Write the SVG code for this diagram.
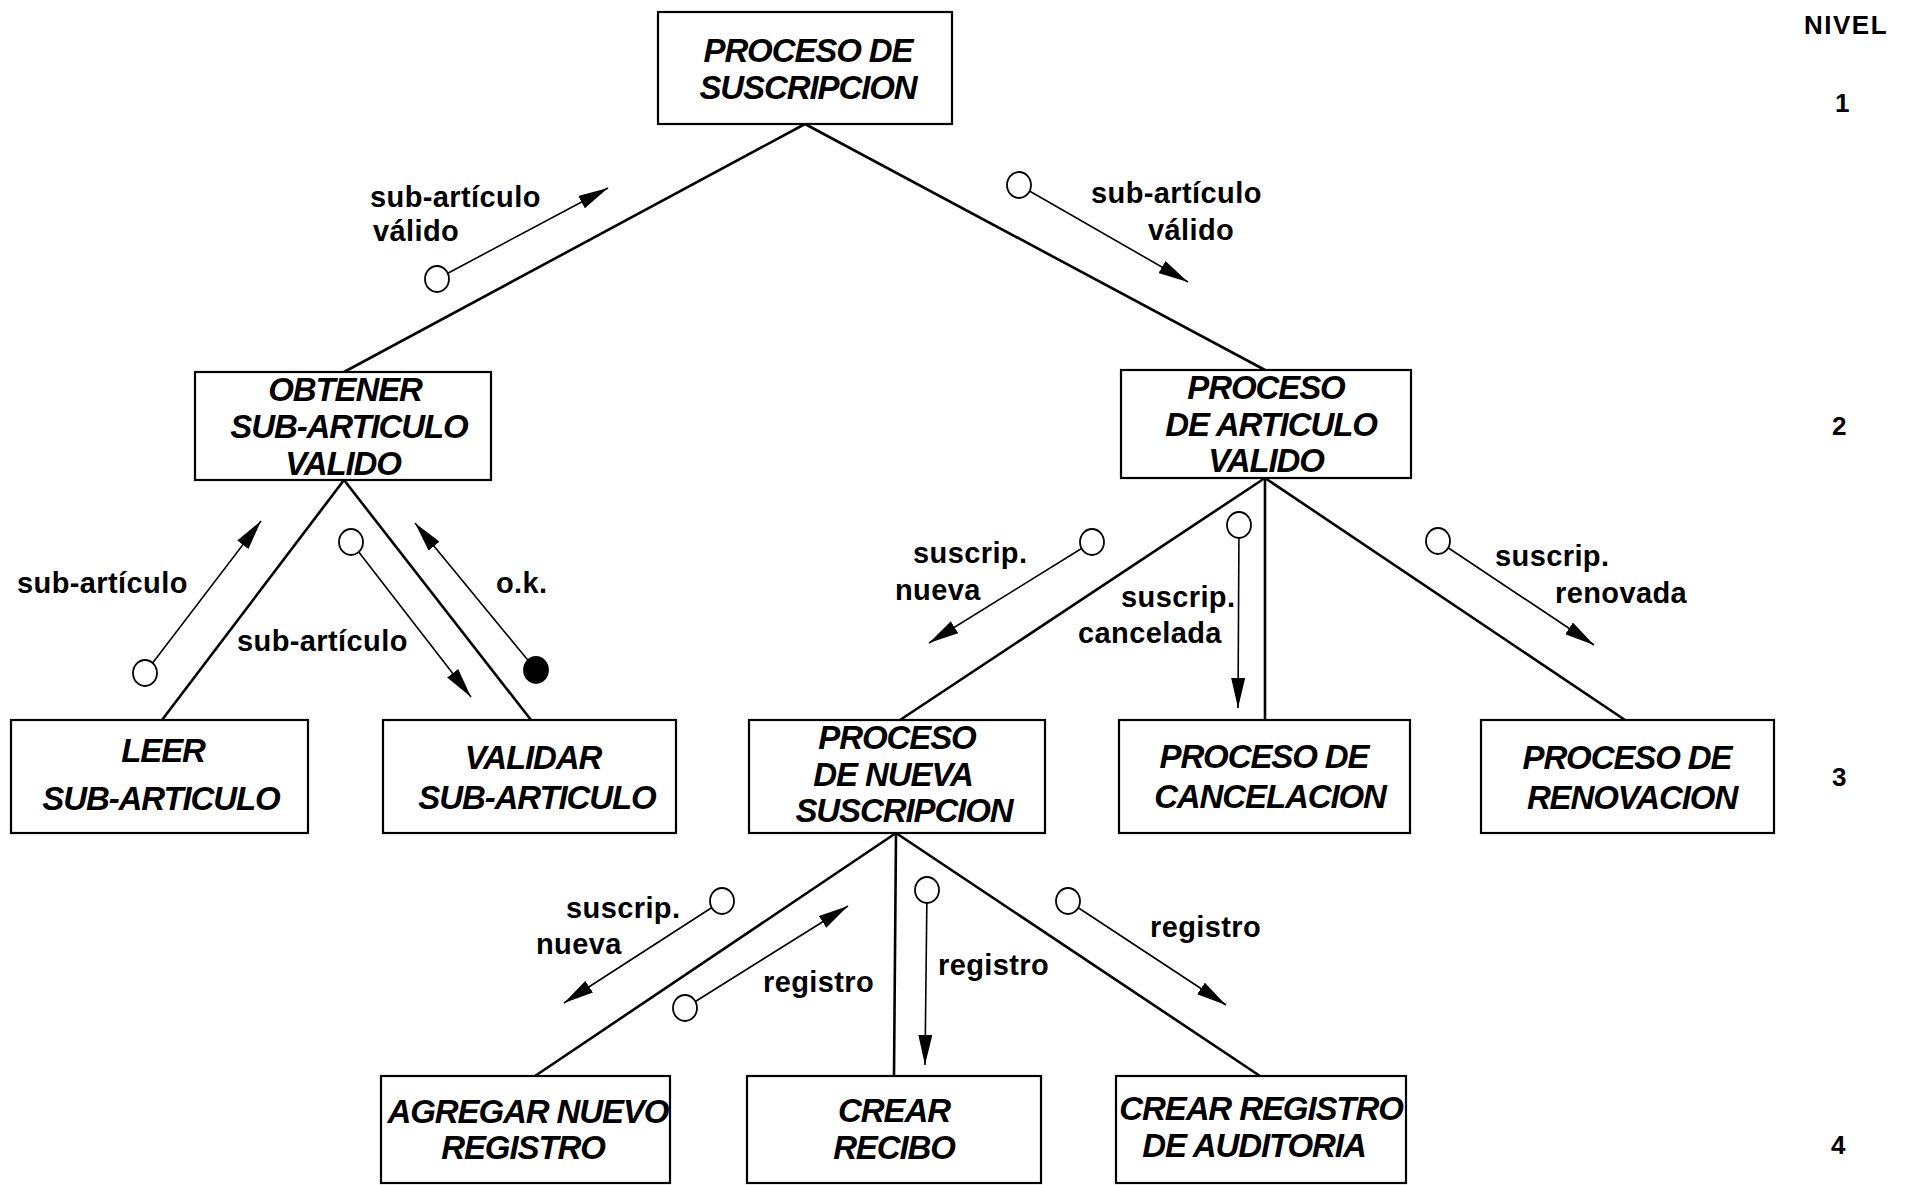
<svg xmlns="http://www.w3.org/2000/svg" width="1907" height="1185" viewBox="0 0 1907 1185">
<style>
.box{fill:#fff;stroke:#000;stroke-width:2.2}
.bt{font-family:"Liberation Sans",Arial,sans-serif;font-weight:bold;font-style:italic;font-size:33px;letter-spacing:-1.1px;text-anchor:middle;fill:#000}
.edge{stroke:#000;stroke-width:2.6;fill:none}
.cp{stroke:#000;stroke-width:1.6;fill:none;marker-end:url(#ah)}
.oc{fill:#fff;stroke:#000;stroke-width:1.8}
.fc{fill:#000;stroke:#000;stroke-width:1.8}
.lb{font-family:"Liberation Sans",Arial,sans-serif;font-weight:bold;font-size:29px;letter-spacing:0.4px;fill:#000}
.lv{font-family:"Liberation Sans",Arial,sans-serif;font-weight:bold;font-size:26px;letter-spacing:1.5px;text-anchor:middle;fill:#000}
</style>
<defs>
<marker id="ah" viewBox="0 0 30 14" refX="30" refY="7" markerWidth="30" markerHeight="14" markerUnits="userSpaceOnUse" orient="auto">
<path d="M0,0 L30,7 L0,14 z" fill="#000"/>
</marker>
</defs>
<rect width="1907" height="1185" fill="#fff"/>

<g id="connectors">
<line class="edge" x1="805" y1="124" x2="344" y2="372"/>
<line class="edge" x1="805" y1="124" x2="1265" y2="370"/>
<line class="edge" x1="344" y1="480" x2="162" y2="720"/>
<line class="edge" x1="344" y1="480" x2="531" y2="720"/>
<line class="edge" x1="1265" y1="478" x2="900" y2="720"/>
<line class="edge" x1="1265" y1="478" x2="1265" y2="720"/>
<line class="edge" x1="1265" y1="478" x2="1625" y2="720"/>
<line class="edge" x1="896" y1="833" x2="535" y2="1076"/>
<line class="edge" x1="896" y1="833" x2="894" y2="1076"/>
<line class="edge" x1="896" y1="833" x2="1260" y2="1076"/>
</g>

<g id="couples">
<line class="cp" x1="437" y1="279" x2="608" y2="188"/><ellipse class="oc" cx="437" cy="279" rx="12" ry="13"/>
<line class="cp" x1="1019" y1="185" x2="1188" y2="282"/><ellipse class="oc" cx="1019" cy="185" rx="12" ry="13"/>
<line class="cp" x1="145" y1="673" x2="261" y2="521"/><ellipse class="oc" cx="145" cy="673" rx="12" ry="13"/>
<line class="cp" x1="351" y1="542" x2="471" y2="697"/><ellipse class="oc" cx="351" cy="542" rx="12" ry="13"/>
<line class="cp" x1="536" y1="670" x2="415" y2="523"/><ellipse class="fc" cx="536" cy="670" rx="12" ry="13"/>
<line class="cp" x1="1092" y1="542" x2="929" y2="643"/><ellipse class="oc" cx="1092" cy="542" rx="12" ry="13"/>
<line class="cp" x1="1239" y1="525" x2="1238" y2="708"/><ellipse class="oc" cx="1239" cy="525" rx="12" ry="13"/>
<line class="cp" x1="1438" y1="541" x2="1594" y2="645"/><ellipse class="oc" cx="1438" cy="541" rx="12" ry="13"/>
<line class="cp" x1="722" y1="901" x2="564" y2="1003"/><ellipse class="oc" cx="722" cy="901" rx="12" ry="13"/>
<line class="cp" x1="685" y1="1008" x2="848" y2="906"/><ellipse class="oc" cx="685" cy="1008" rx="12" ry="13"/>
<line class="cp" x1="927" y1="890" x2="925" y2="1065"/><ellipse class="oc" cx="927" cy="890" rx="12" ry="13"/>
<line class="cp" x1="1068" y1="901" x2="1226" y2="1005"/><ellipse class="oc" cx="1068" cy="901" rx="12" ry="13"/>
</g>

<g id="labels">
<text class="lb" x="370" y="207">sub-artículo</text>
<text class="lb" x="373" y="241">válido</text>
<text class="lb" x="1091" y="203">sub-artículo</text>
<text class="lb" x="1148" y="240">válido</text>
<text class="lb" x="17" y="593">sub-artículo</text>
<text class="lb" x="237" y="651">sub-artículo</text>
<text class="lb" x="496" y="593">o.k.</text>
<text class="lb" x="913" y="563">suscrip.</text>
<text class="lb" x="895" y="600">nueva</text>
<text class="lb" x="1121" y="607">suscrip.</text>
<text class="lb" x="1078" y="643">cancelada</text>
<text class="lb" x="1495" y="566">suscrip.</text>
<text class="lb" x="1555" y="603">renovada</text>
<text class="lb" x="566" y="918">suscrip.</text>
<text class="lb" x="536" y="954">nueva</text>
<text class="lb" x="763" y="992">registro</text>
<text class="lb" x="938" y="975">registro</text>
<text class="lb" x="1150" y="937">registro</text>
</g>

<g id="n-root"><rect class="box" x="658" y="12" width="294" height="112"/>
<text class="bt" x="808" y="62">PROCESO DE</text><text class="bt" x="808" y="99">SUSCRIPCION</text></g>

<g id="n-obtener"><rect class="box" x="195" y="372" width="296" height="108"/>
<text class="bt" x="345" y="401">OBTENER</text><text class="bt" x="349" y="438">SUB-ARTICULO</text><text class="bt" x="343" y="475">VALIDO</text></g>

<g id="n-articulo"><rect class="box" x="1121" y="370" width="290" height="108"/>
<text class="bt" x="1266" y="399">PROCESO</text><text class="bt" x="1271" y="436">DE ARTICULO</text><text class="bt" x="1266" y="472">VALIDO</text></g>

<g id="n-leer"><rect class="box" x="11" y="720" width="297" height="113"/>
<text class="bt" x="163" y="762">LEER</text><text class="bt" x="161" y="810">SUB-ARTICULO</text></g>

<g id="n-validar"><rect class="box" x="383" y="720" width="293" height="113"/>
<text class="bt" x="533" y="769">VALIDAR</text><text class="bt" x="537" y="809">SUB-ARTICULO</text></g>

<g id="n-nueva"><rect class="box" x="749" y="720" width="296" height="113"/>
<text class="bt" x="897" y="749">PROCESO</text><text class="bt" x="893" y="786">DE NUEVA</text><text class="bt" x="904" y="822">SUSCRIPCION</text></g>

<g id="n-cancelacion"><rect class="box" x="1119" y="720" width="291" height="113"/>
<text class="bt" x="1264" y="768">PROCESO DE</text><text class="bt" x="1270" y="808">CANCELACION</text></g>

<g id="n-renovacion"><rect class="box" x="1481" y="720" width="293" height="113"/>
<text class="bt" x="1627" y="769">PROCESO DE</text><text class="bt" x="1632" y="809">RENOVACION</text></g>

<g id="n-agregar"><rect class="box" x="381" y="1076" width="289" height="107"/>
<text class="bt" x="528" y="1123">AGREGAR NUEVO</text><text class="bt" x="523" y="1159">REGISTRO</text></g>

<g id="n-recibo"><rect class="box" x="747" y="1076" width="294" height="107"/>
<text class="bt" x="894" y="1122">CREAR</text><text class="bt" x="894" y="1159">RECIBO</text></g>

<g id="n-auditoria"><rect class="box" x="1116" y="1076" width="290" height="107"/>
<text class="bt" x="1261" y="1120">CREAR REGISTRO</text><text class="bt" x="1254" y="1157">DE AUDITORIA</text></g>

<g id="niveles">
<text class="lv" x="1846" y="34">NIVEL</text>
<text class="lv" x="1843" y="112">1</text>
<text class="lv" x="1840" y="435">2</text>
<text class="lv" x="1840" y="786">3</text>
<text class="lv" x="1839" y="1154">4</text>
</g>
</svg>
